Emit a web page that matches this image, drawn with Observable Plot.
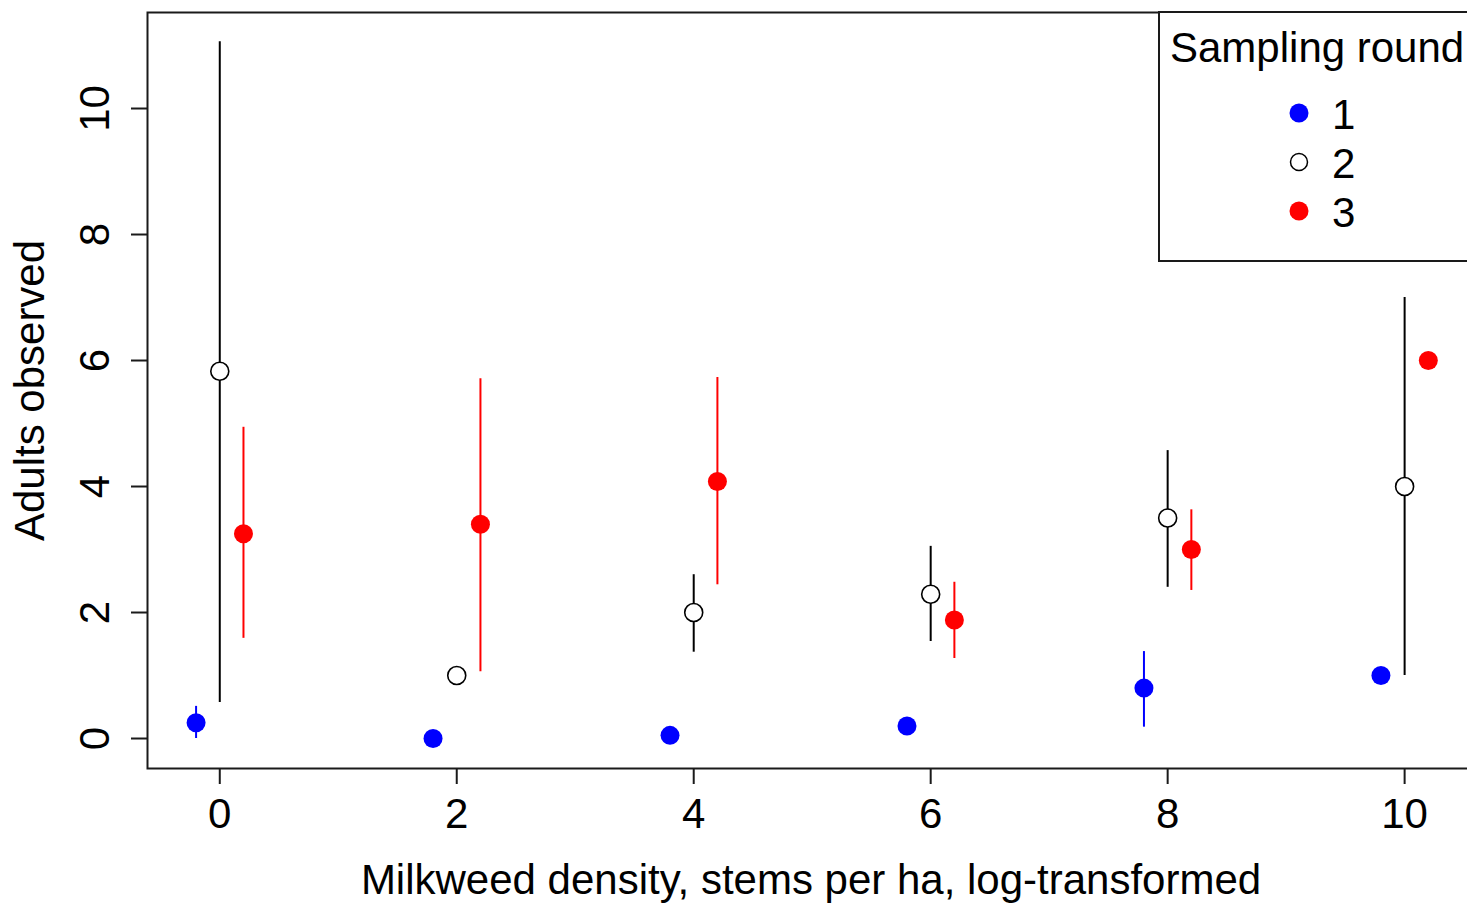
<!DOCTYPE html>
<html>
<head>
<meta charset="utf-8">
<script src="https://cdn.jsdelivr.net/npm/d3@7"></script>
<script src="https://cdn.jsdelivr.net/npm/@observablehq/plot@0.6"></script>
<style>
  html, body { margin: 0; padding: 0; background: #fff; overflow: hidden; }
  #wrap { position: relative; width: 1467px; height: 904px; overflow: hidden; font-family: "Liberation Sans", Arial, sans-serif; }
  #legend { position: absolute; left: 1158px; top: 11px; width: 340px; height: 251px; box-sizing: border-box;
            border: 2px solid #1a1a1a; background: #fff; }
  .lg-title, .lg-label { position: absolute; font-size: 42px; line-height: 42px; color: #000; white-space: nowrap; }
  .lg-dot { position: absolute; }
</style>
</head>
<body>
<div id="wrap"><div id="chart"></div><div id="legend"></div></div>
<script>
// Milkweed density classes (log stems per ha) on the x axis
const density = [0, 2, 4, 6, 8, 10];
const rounds = ["1", "2", "3"];

// Adults observed: mean and interval per sampling round
const meanR1 = [0.25, 0, 0.05, 0.2, 0.8, 1];
const lowR1  = [0, 0, 0.05, 0.2, 0.18, 1];
const highR1 = [0.51, 0, 0.05, 0.2, 1.38, 1];

const meanR2 = [5.83, 1, 2, 2.29, 3.5, 4];
const lowR2  = [0.57, 1, 1.37, 1.54, 2.4, 1];
const highR2 = [11.06, 1, 2.6, 3.05, 4.57, 7];

const meanR3 = [3.25, 3.4, 4.08, 1.88, 3, 6];
const lowR3  = [1.59, 1.06, 2.44, 1.27, 2.35, 6];
const highR3 = [4.94, 5.71, 5.73, 2.48, 3.63, 6];

const xTicks = [0, 2, 4, 6, 8, 10];
const yTicks = [0, 2, 4, 6, 8, 10];

const xTitle = "Milkweed density, stems per ha, log-transformed";
const yTitle = "Adults observed";
const legendTitle = "Sampling round";

// side-by-side dodge of the three rounds around each density class
const dodge = {"1": -0.2, "2": 0, "3": 0.2};
const colours = {"1": "#0000ff", "2": "#000000", "3": "#ff0000"};

function rowsFor(round, mean, low, high) {
  return density.map((d, i) => ({round, x: d + dodge[round], mean: mean[i], low: low[i], high: high[i]}));
}
const r1 = rowsFor("1", meanR1, lowR1, highR1);
const r2 = rowsFor("2", meanR2, lowR2, highR2);
const r3 = rowsFor("3", meanR3, lowR3, highR3);
const bars = rows => rows.filter(d => d.high > d.low);

const font = "'Liberation Sans', Arial, sans-serif";

const chart = Plot.plot({
  width: 1500,
  height: 904,
  marginLeft: 147,
  marginRight: 30,
  marginTop: 12,
  marginBottom: 136,
  style: {fontFamily: font, fontSize: "42px", color: "#000", background: "#fff", maxWidth: "none", overflow: "visible"},
  x: {domain: [-0.61, 10.556], label: null},
  y: {domain: [-0.476, 11.524], label: null},
  marks: [
    Plot.axisX({ticks: xTicks, tickSize: 16, tickPadding: 14, fontSize: 42, strokeWidth: 2, stroke: "#1a1a1a", label: null}),
    Plot.axisY({ticks: yTicks, tickSize: 16, tickPadding: 23, tickRotate: -90, fontSize: 42, strokeWidth: 2, stroke: "#1a1a1a", label: null}),
    Plot.ruleX(bars(r1), {x: "x", y1: "low", y2: "high", stroke: colours["1"], strokeWidth: 2}),
    Plot.ruleX(bars(r2), {x: "x", y1: "low", y2: "high", stroke: colours["2"], strokeWidth: 2}),
    Plot.ruleX(bars(r3), {x: "x", y1: "low", y2: "high", stroke: colours["3"], strokeWidth: 2}),
    Plot.dot(r1, {x: "x", y: "mean", r: 9.5, fill: colours["1"], stroke: "none"}),
    Plot.dot(r2, {x: "x", y: "mean", r: 9, fill: "#fff", stroke: colours["2"], strokeWidth: 1.6}),
    Plot.dot(r3, {x: "x", y: "mean", r: 9.5, fill: colours["3"], stroke: "none"}),
    Plot.frame({stroke: "#1a1a1a", strokeWidth: 2}),
    Plot.text([xTitle], {frameAnchor: "bottom", dx: 2, dy: 125, textAnchor: "middle", lineAnchor: "bottom", fontSize: 42, fill: "#000"}),
    Plot.text([yTitle], {frameAnchor: "left", dx: -104, rotate: -90, textAnchor: "middle", lineAnchor: "bottom", fontSize: 42, fill: "#000"})
  ]
});
document.getElementById("chart").appendChild(chart);

// legend box in the top-right corner of the panel
const legend = document.getElementById("legend");
const title = document.createElement("div");
title.className = "lg-title";
title.textContent = legendTitle;
title.style.left = "10px";
title.style.top = "14px";
legend.appendChild(title);

rounds.forEach((r, i) => {
  const cy = 100 + i * 49; // row centre inside the box
  const svg = d3.create("svg").attr("class", "lg-dot").attr("width", 24).attr("height", 24)
    .style("left", "127px").style("top", (cy - 12) + "px");
  const c = svg.append("circle").attr("cx", 12).attr("cy", 12);
  if (r === "2") c.attr("r", 8.5).attr("fill", "#fff").attr("stroke", "#000").attr("stroke-width", 1.5);
  else c.attr("r", 9.5).attr("fill", colours[r]);
  legend.appendChild(svg.node());
  const lab = document.createElement("div");
  lab.className = "lg-label";
  lab.textContent = r;
  lab.style.left = "172px";
  lab.style.top = (cy - 19) + "px";
  legend.appendChild(lab);
});
</script>
</body>
</html>
